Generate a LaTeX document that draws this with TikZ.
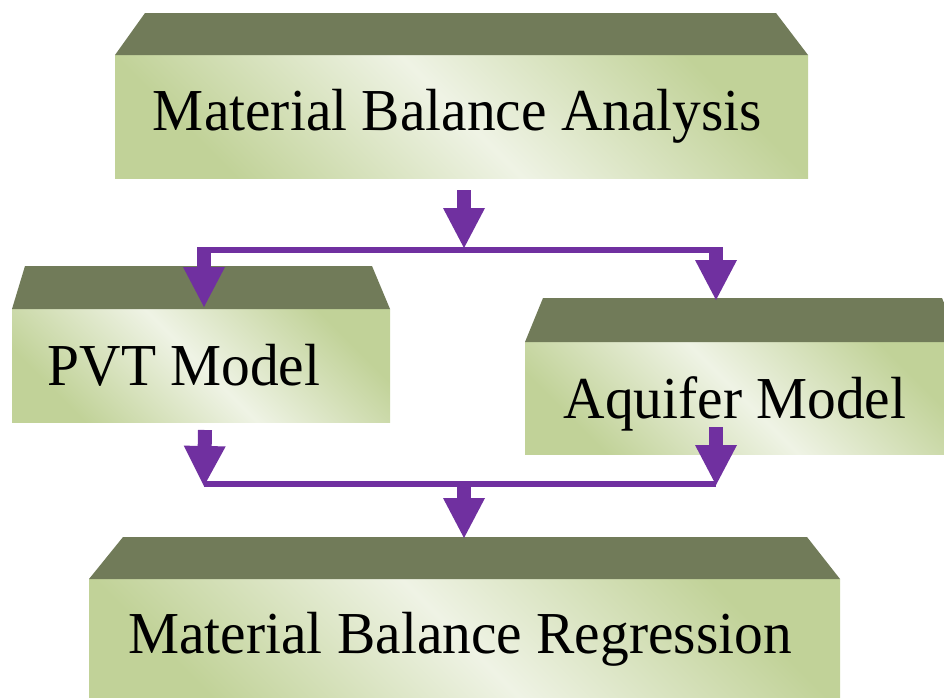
\documentclass[tikz,border=0pt]{standalone}
\usepackage{fontspec}
\setmainfont{Liberation Serif}
\newfontfamily\lblfont[FakeStretch=0.965]{Liberation Serif}
\usetikzlibrary{arrows.meta,calc}
\definecolor{topc}{RGB}{113,123,89}
\definecolor{greenc}{RGB}{193,210,152}
\definecolor{lightc}{RGB}{239,243,229}
\definecolor{arrowc}{RGB}{112,48,160}
\tikzset{
  boxface/.style={rectangle, inner sep=0pt, outer sep=0pt, anchor=north west,
    left color=greenc, right color=greenc, middle color=lightc, shading angle=135},
  topface/.style={fill=topc},
  lbl/.style={font=\lblfont\fontsize{59.5pt}{64pt}\selectfont, anchor=base, inner sep=0pt},
  barrow/.style={draw=arrowc, line width=14pt, -{Triangle[width=42pt,length=40pt,line width=0pt]}},
  hline/.style={draw=arrowc, line width=6pt}
}
\begin{document}
\begin{tikzpicture}[x=1pt,y=1pt]
\useasboundingbox (0,0) rectangle (944,-697);
\fill[white] (0,0) rectangle (944,-697);
\clip (0,0) rectangle (944,-697);

% boxes (front faces)
\node[boxface, minimum width=693pt, minimum height=123pt] (mba) at (115,-55) {};
\node[boxface, minimum width=378pt, minimum height=113pt] (pvt) at (12,-309) {};
\node[boxface, minimum width=435pt, minimum height=112pt] (aq) at (525,-342) {};
\node[boxface, minimum width=751pt, minimum height=126pt] (mbr) at (89,-579) {};

% top faces
\fill[topface] (mba.north west) -- ($(mba.north west)+(30,42)$) -- ($(mba.north east)+(-32,42)$) -- (mba.north east) -- cycle;
\fill[topface] (pvt.north west) -- ($(pvt.north west)+(13,43)$) -- ($(pvt.north east)+(-18,43)$) -- (pvt.north east) -- cycle;
\fill[topface] (aq.north west) -- ($(aq.north west)+(18,44)$) -- ($(aq.north east)+(-18,44)$) -- (aq.north east) -- cycle;
\fill[topface] (mbr.north west) -- ($(mbr.north west)+(34,42)$) -- ($(mbr.north east)+(-33,42)$) -- (mbr.north east) -- cycle;

% labels
\node[lbl] (mbat) at (457.5,-130) {Material Balance Analysis};
\node[lbl] (pvtt) at (184,-385) {PVT Model};
\node[lbl] (aqt) at (735,-418) {Aquifer Model};
\node[lbl] (mbrt) at (460,-653) {Material Balance Regression};

% connector points
\coordinate (a1s) at (464,-190);
\coordinate (j1) at (464,-248);
\coordinate (l1w) at (197,-250);
\coordinate (l1e) at (723,-250);
\coordinate (b1l) at (204,-247);
\coordinate (b1r) at (716,-247);
\coordinate (pvtin) at (204,-307);
\coordinate (aqin) at (716,-300);
\coordinate (pvtout) at (205,-430);
\coordinate (aqout) at (716,-427);
\coordinate (j2l) at (204,-486);
\coordinate (j2r) at (716,-485);
\coordinate (l2w) at (204,-484);
\coordinate (l2e) at (716,-484);
\coordinate (j2) at (464,-481);
\coordinate (mbrin) at (464,-538);

% connectors
\draw[barrow] (a1s) -- (j1);
\draw[hline] (l1w) -- (l1e);
\draw[barrow] (b1l) -- (pvtin);
\draw[barrow] (b1r) -- (aqin);
\draw[barrow] (pvtout) -- (j2l);
\draw[barrow] (aqout) -- (j2r);
\draw[hline] (l2w) -- (l2e);
\draw[barrow] (j2) -- (mbrin);
\end{tikzpicture}
\end{document}
